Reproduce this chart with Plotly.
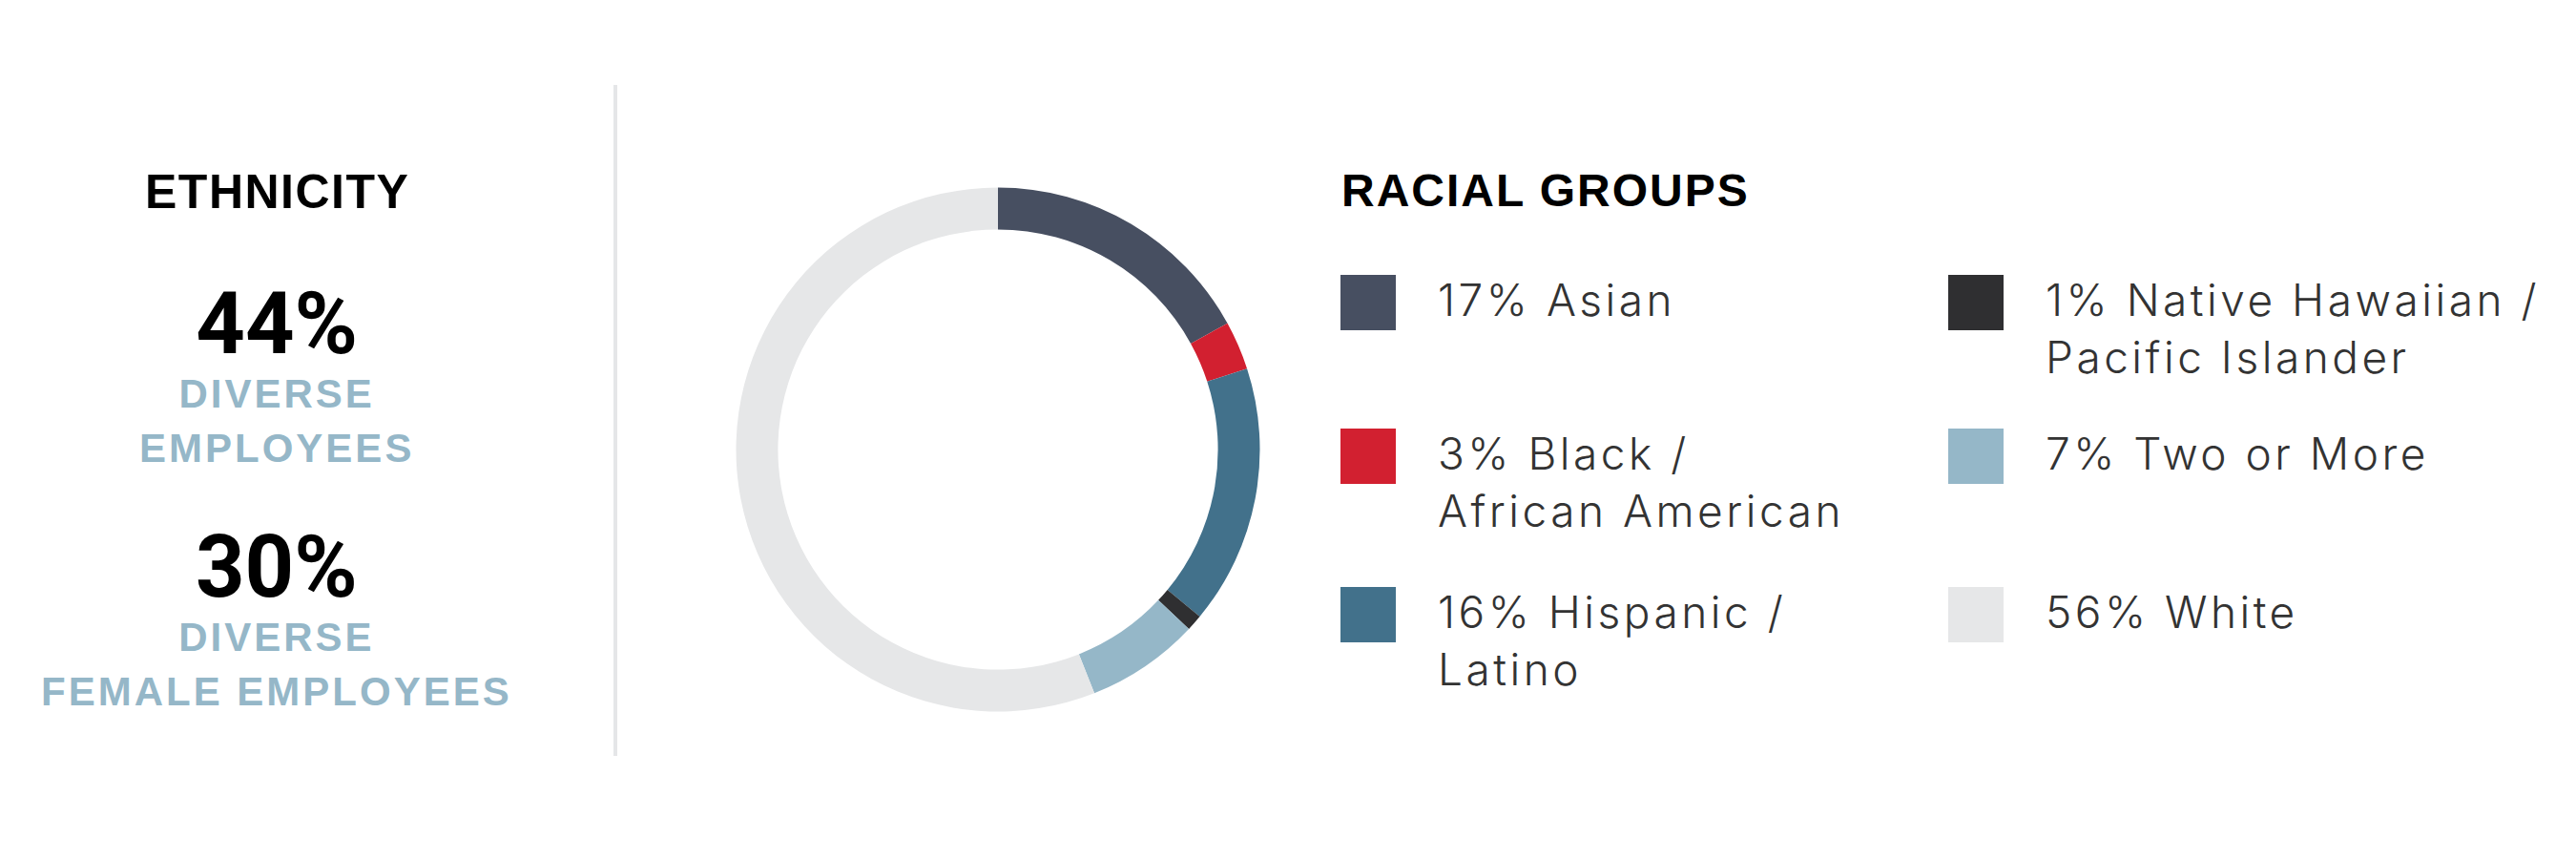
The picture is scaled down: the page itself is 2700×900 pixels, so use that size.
import plotly.graph_objects as go

# ---- data ----
groups = ["Asian", "Black / African American", "Hispanic / Latino",
          "Native Hawaiian / Pacific Islander", "Two or More", "White"]
shares = [17, 3, 16, 1, 7, 56]
legend_labels = ["17% Asian", "3% Black /<br>African American", "16% Hispanic /<br>Latino",
                 "1% Native Hawaiian /<br>Pacific Islander", "7% Two or More", "56% White"]
colors = ["#474f61", "#d22030", "#42718b", "#2f2f31", "#95b7c8", "#e6e7e8"]

left_title = "ETHNICITY"
right_title = "RACIAL GROUPS"
stat_values = ["44%", "30%"]
stat_labels = [["DIVERSE", "EMPLOYEES"], ["DIVERSE", "FEMALE EMPLOYEES"]]

# page has an 8px body margin; work in screen pixels and convert
OFF = 8
W, H = 2700 - OFF, 900 - OFF
def px(x):
    return (x - OFF) / W
def py(y):
    return 1 - (y - OFF) / H

# donut geometry (screen px)
cx, cy, R = 1046, 471, 274.5

fig = go.Figure()
fig.add_trace(go.Pie(
    labels=groups, values=shares, sort=False, direction="clockwise", rotation=0,
    hole=0.84, textinfo="none", hoverinfo="label+percent",
    marker=dict(colors=colors, line=dict(width=0)),
    domain=dict(x=[px(cx - R), px(cx + R)], y=[py(cy + R), py(cy - R)]),
    showlegend=False,
))

annotations = []
shapes = []

BOLD = "Liberation Sans, Arial, sans-serif"
LIGHT = "Inter, Lato, sans-serif"
blue = "#95b7c8"

def spaced(t, ls):
    return f'<span style="letter-spacing:{ls}px">{t}</span>'

# left panel
annotations.append(dict(x=px(290), y=py(201), xref="paper", yref="paper", showarrow=False,
                        xanchor="center", yanchor="middle", text=spaced(left_title, 1.5),
                        font=dict(family=BOLD, size=50, color="#000000", weight="bold")))
stat_bottom = [494, 749]
for v, labs, yb in zip(stat_values, stat_labels, stat_bottom):
    big = ('<span style="font-size:90px;font-family:Roboto,Liberation Sans,sans-serif;'
           f'color:#000000">{v}</span>')
    small = [f'<span style="font-size:42px;letter-spacing:3px">{l}</span>' for l in labs]
    annotations.append(dict(x=px(290), y=py(yb), xref="paper", yref="paper", showarrow=False,
                            xanchor="center", yanchor="bottom", align="center", borderpad=0,
                            text="<br>".join([big] + small),
                            font=dict(family=BOLD, size=44, color=blue, weight="bold")))

# divider
shapes.append(dict(type="line", xref="paper", yref="paper", x0=px(645), x1=px(645),
                   y0=py(89), y1=py(792), line=dict(color="#e5e6e8", width=4)))

# right panel title
annotations.append(dict(x=px(1404), y=py(200), xref="paper", yref="paper", showarrow=False,
                        xanchor="left", yanchor="middle", text=spaced(right_title, 2),
                        font=dict(family=BOLD, size=48, color="#000000", weight="bold")))

# legend
col_x = [1405, 2042]
row_y = [288, 449, 615]
sq = 58
for i, (lab, col) in enumerate(zip(legend_labels, colors)):
    c, r = divmod(i, 3)
    x0, y0 = col_x[c], row_y[r]
    shapes.append(dict(type="rect", xref="paper", yref="paper",
                       x0=px(x0), x1=px(x0 + sq), y0=py(y0 + sq), y1=py(y0),
                       fillcolor=col, line=dict(width=0)))
    annotations.append(dict(x=px(x0 + 100), y=py(y0 - 4), xref="paper", yref="paper",
                            showarrow=False, xanchor="left", yanchor="top", align="left",
                            text=spaced(lab, 3.5),
                            font=dict(family=LIGHT, size=46, color="#333333", weight=300)))

fig.update_layout(
    width=W, height=H, margin=dict(l=0, r=0, t=0, b=0),
    paper_bgcolor="#ffffff", plot_bgcolor="#ffffff",
    annotations=annotations, shapes=shapes,
)
fig.write_html("out.html")
